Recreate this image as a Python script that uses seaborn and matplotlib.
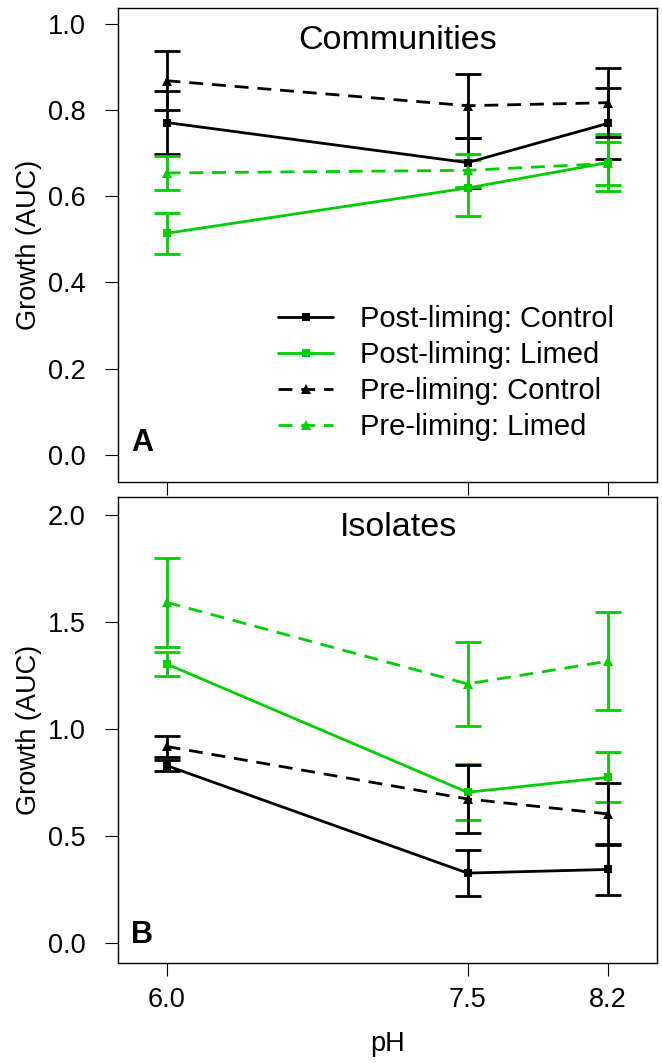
import matplotlib
matplotlib.use("Agg")
import matplotlib.pyplot as plt
import pandas as pd
import seaborn as sns

# pH levels (x)
ph = [6.0, 7.5, 8.2]

groups = ["Post-liming: Control", "Post-liming: Limed",
          "Pre-liming: Control", "Pre-liming: Limed"]

# Panel A: communities, mean growth (AUC) and SE
comm_mean = {
    "Post-liming: Control": [0.771, 0.678, 0.769],
    "Post-liming: Limed": [0.514, 0.619, 0.678],
    "Pre-liming: Control": [0.868, 0.810, 0.817],
    "Pre-liming: Limed": [0.654, 0.660, 0.676],
}
comm_se = {
    "Post-liming: Control": [0.074, 0.058, 0.082],
    "Post-liming: Limed": [0.047, 0.064, 0.066],
    "Pre-liming: Control": [0.068, 0.074, 0.080],
    "Pre-liming: Limed": [0.039, 0.039, 0.050],
}

# Panel B: isolates
iso_mean = {
    "Post-liming: Control": [0.829, 0.327, 0.344],
    "Post-liming: Limed": [1.303, 0.704, 0.774],
    "Pre-liming: Control": [0.918, 0.673, 0.603],
    "Pre-liming: Limed": [1.591, 1.210, 1.316],
}
iso_se = {
    "Post-liming: Control": [0.025, 0.107, 0.117],
    "Post-liming: Limed": [0.055, 0.130, 0.116],
    "Pre-liming: Control": [0.048, 0.158, 0.145],
    "Pre-liming: Limed": [0.207, 0.196, 0.230],
}

colors = {"Post-liming: Control": "black", "Post-liming: Limed": "#00CD00",
          "Pre-liming: Control": "black", "Pre-liming: Limed": "#00CD00"}
markers = {"Post-liming: Control": "s", "Post-liming: Limed": "s",
           "Pre-liming: Control": "^", "Pre-liming: Limed": "^"}
dash = (0, (5.0, 3.2))
styles = {"Post-liming: Control": "-", "Post-liming: Limed": "-",
          "Pre-liming: Control": dash, "Pre-liming: Limed": dash}


def tidy(means, ses):
    rows = []
    for g in groups:
        for x, m, s in zip(ph, means[g], ses[g]):
            rows.append({"pH": x, "group": g, "auc": m, "se": s})
    return pd.DataFrame(rows)


df_a = tidy(comm_mean, comm_se)
df_b = tidy(iso_mean, iso_se)

sns.set_style("ticks")
plt.rcParams["font.family"] = ["Liberation Sans", "DejaVu Sans"]
plt.rcParams["text.color"] = "black"
plt.rcParams["axes.labelcolor"] = "black"

fig = plt.figure(figsize=(6.62, 10.63), dpi=100)
ax_a = fig.add_axes([0.178, 0.5466, 0.814, 0.446])
ax_b = fig.add_axes([0.178, 0.094, 0.814, 0.438])


def draw_panel(ax, df):
    for g in groups:
        d = df[df["group"] == g]
        ax.errorbar(d["pH"], d["auc"], yerr=d["se"], fmt="none",
                    ecolor=colors[g], elinewidth=2.0, capsize=9.5,
                    capthick=2.0, zorder=2)
        sns.lineplot(data=d, x="pH", y="auc", ax=ax, color=colors[g],
                     marker=markers[g], markersize=6.5 if markers[g] == "^" else 6,
                     markeredgewidth=0, linewidth=2.0, linestyle=styles[g],
                     label=g, legend=False, zorder=3)
    ax.set_xlim(5.757, 8.443)
    ax.set_xticks(ph)
    for s in ax.spines.values():
        s.set_linewidth(1.0)
        s.set_color("black")
    ax.tick_params(length=9.4, width=0.8, labelsize=19.5, pad=14, colors="black")
    ax.set_ylabel("Growth (AUC)", fontsize=19.5, labelpad=4)


draw_panel(ax_a, df_a)
ax_a.set_ylim(-0.063, 1.037)
ax_a.set_yticks([0.0, 0.2, 0.4, 0.6, 0.8, 1.0])
ax_a.set_yticklabels(["0.0", "0.2", "0.4", "0.6", "0.8", "1.0"])
ax_a.set_xticklabels([])
ax_a.set_xlabel("")
ax_a.text(0.52, 0.932, "Communities", transform=ax_a.transAxes,
          ha="center", va="center", fontsize=24.5)
ax_a.text(0.024, 0.065, "A", transform=ax_a.transAxes, ha="left",
          va="baseline", fontsize=22, fontweight="bold")

leg = ax_a.legend(loc="lower left", bbox_to_anchor=(0.27, 0.055), frameon=False,
                  fontsize=21, handlelength=1.9, handletextpad=0.9,
                  labelspacing=0.28, borderpad=0)

draw_panel(ax_b, df_b)
ax_b.set_ylim(-0.093, 2.08)
ax_b.set_yticks([0.0, 0.5, 1.0, 1.5, 2.0])
ax_b.set_yticklabels(["0.0", "0.5", "1.0", "1.5", "2.0"])
ax_b.set_xticklabels(["6.0", "7.5", "8.2"])
ax_b.tick_params(axis="x", pad=8)
ax_b.set_xlabel("pH", fontsize=19.5, labelpad=13)
ax_b.text(0.52, 0.936, "Isolates", transform=ax_b.transAxes,
          ha="center", va="center", fontsize=24.5)
ax_b.text(0.024, 0.043, "B", transform=ax_b.transAxes, ha="left",
          va="baseline", fontsize=22, fontweight="bold")

fig.savefig("out.png", dpi=100)
